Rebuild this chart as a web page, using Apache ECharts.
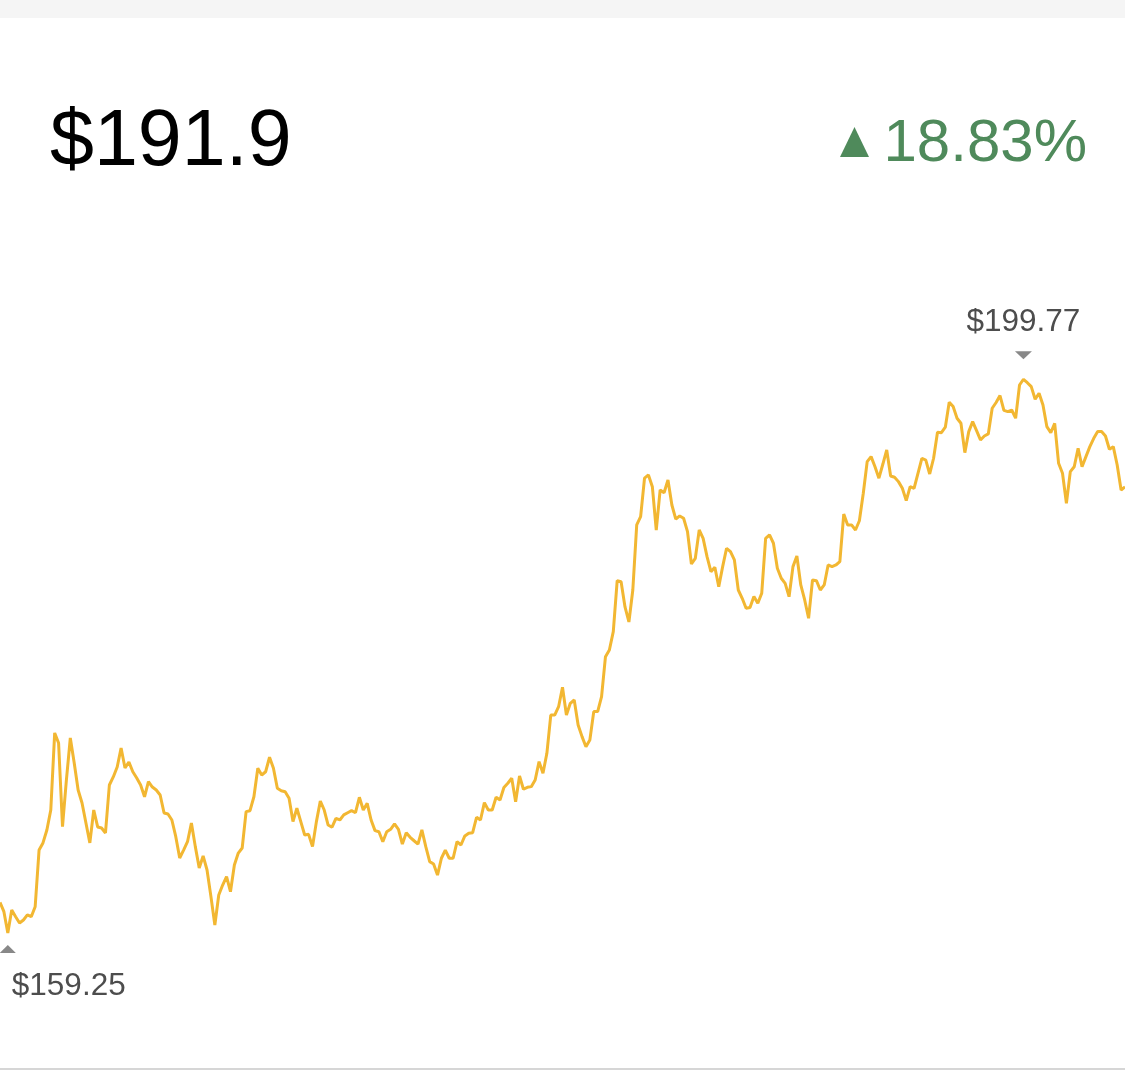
<!DOCTYPE html>
<html>
<head>
<meta charset="utf-8">
<script src="https://cdn.jsdelivr.net/npm/echarts@6/dist/echarts.min.js"></script>
<style>
html,body{margin:0;padding:0;background:#fff;}
#chart{width:1125px;height:1084px;}
</style>
</head>
<body>
<div id="chart"></div>
<script>
const lastPriceText = '$191.9';
const changeText = '18.83%';
const prices = [
161.49,160.81,159.25,160.93,160.44,159.98,160.20,160.57,160.44,161.17,
165.32,165.84,166.79,168.25,173.89,173.15,167.03,170.45,173.52,171.69,
169.71,168.76,167.30,165.84,168.25,167.01,166.93,166.57,170.08,170.67,
171.40,172.79,171.32,171.76,171.05,170.59,170.08,169.22,170.32,169.93,
169.71,169.35,168.03,167.96,167.52,166.30,164.74,165.32,165.93,167.30,
165.57,164.01,164.89,163.86,161.91,159.84,162.03,162.76,163.37,162.27,
164.23,165.10,165.47,168.13,168.20,169.22,171.30,170.81,171.05,172.11,
171.30,169.84,169.66,169.59,169.11,167.40,168.38,167.40,166.42,166.47,
165.57,167.40,168.91,168.25,167.15,166.99,167.64,167.52,167.89,168.05,
168.20,168.05,169.18,168.25,168.74,167.52,166.74,166.66,165.93,166.66,
166.84,167.23,166.84,165.76,166.59,166.25,166.00,165.76,166.79,165.57,
164.47,164.30,163.49,164.72,165.32,164.72,164.72,165.93,165.69,166.35,
166.55,166.59,167.72,167.52,168.79,168.25,168.25,169.18,168.98,169.90,
170.21,170.57,168.86,170.74,169.77,169.91,169.96,170.45,171.79,170.94,
172.40,175.20,175.20,175.81,177.23,175.20,176.06,176.30,174.47,173.62,
172.88,173.37,175.45,175.45,176.54,179.47,179.96,181.30,185.03,184.96,
183.11,182.01,184.35,189.11,189.72,192.53,192.77,191.91,188.74,191.67,
191.47,192.40,190.57,189.53,189.77,189.60,188.62,186.25,186.67,188.74,
188.13,186.79,185.69,186.01,184.59,186.06,187.40,187.15,186.55,184.35,
183.74,183.01,183.07,183.88,183.38,184.11,188.13,188.38,187.77,185.94,
185.21,184.84,183.86,186.06,186.84,184.72,183.62,182.28,185.08,185.03,
184.35,184.72,186.18,186.06,186.18,186.42,189.91,189.11,189.11,188.74,
189.42,191.43,193.74,194.11,193.37,192.53,193.55,194.60,192.69,192.60,
192.28,191.79,190.89,191.91,191.79,192.89,193.99,193.86,192.84,193.99,
195.89,195.86,196.26,198.09,197.77,196.92,196.55,194.40,195.94,196.67,
196.01,195.33,195.62,195.77,197.65,198.07,198.58,197.50,197.40,197.52,
196.92,199.35,199.77,199.52,199.23,198.31,198.75,197.89,196.30,195.86,
196.55,193.62,192.89,190.70,193.01,193.37,194.72,193.37,194.11,194.84,
195.45,195.94,195.94,195.62,194.65,194.84,193.50,191.67,191.90
];
const days = prices.map((_, i) => i);

const chart = echarts.init(document.getElementById('chart'));
chart.setOption({
  backgroundColor: '#ffffff',
  animation: false,
  grid: { left: 0, right: 0, top: 307.8, height: 751.6 },
  xAxis: { type: 'category', data: days, boundaryGap: false, show: false },
  yAxis: { type: 'value', min: 150, max: 205, show: false },
  graphic: [
    { type: 'rect', shape: { x: 0, y: 0, width: 1125, height: 18 }, style: { fill: '#f5f5f5' }, silent: true },
    { type: 'rect', shape: { x: 0, y: 1068, width: 1125, height: 2 }, style: { fill: '#d6d6d6' }, silent: true },
    { type: 'text', left: 50, top: 104, style: { text: lastPriceText, fontFamily: 'Liberation Sans, Arial, sans-serif', fontSize: 79, fill: '#000' } },
    { type: 'text', right: 38, top: 114, style: { text: changeText, fontFamily: 'Liberation Sans, Arial, sans-serif', fontSize: 60, fill: '#4f8a5b' } },
    { type: 'polygon', shape: { points: [[840, 157], [869, 157], [854.5, 127]] }, style: { fill: '#4f8a5b' } }
  ],
  series: [{
    type: 'line',
    data: prices,
    showSymbol: false,
    symbol: 'none',
    lineStyle: { color: '#f2b732', width: 3 },
    markPoint: {
      animation: false,
      data: [
        {
          type: 'max', symbol: 'triangle', symbolRotate: 180, symbolSize: [17, 8], symbolOffset: [0, -24],
          itemStyle: { color: '#888888' },
          label: { show: true, position: 'top', distance: 13, formatter: p => '$' + p.value.toFixed(2), color: '#4d4d4d', fontSize: 31.5, fontFamily: 'Liberation Sans, Arial, sans-serif' }
        },
        {
          type: 'min', symbol: 'triangle', symbolSize: [16, 8], symbolOffset: [0, 16],
          itemStyle: { color: '#888888' },
          label: { show: true, position: 'bottom', distance: 17, align: 'left', offset: [4, 0], formatter: p => '$' + p.value.toFixed(2), color: '#4d4d4d', fontSize: 31.5, fontFamily: 'Liberation Sans, Arial, sans-serif' }
        }
      ]
    }
  }]
});
</script>
</body>
</html>
